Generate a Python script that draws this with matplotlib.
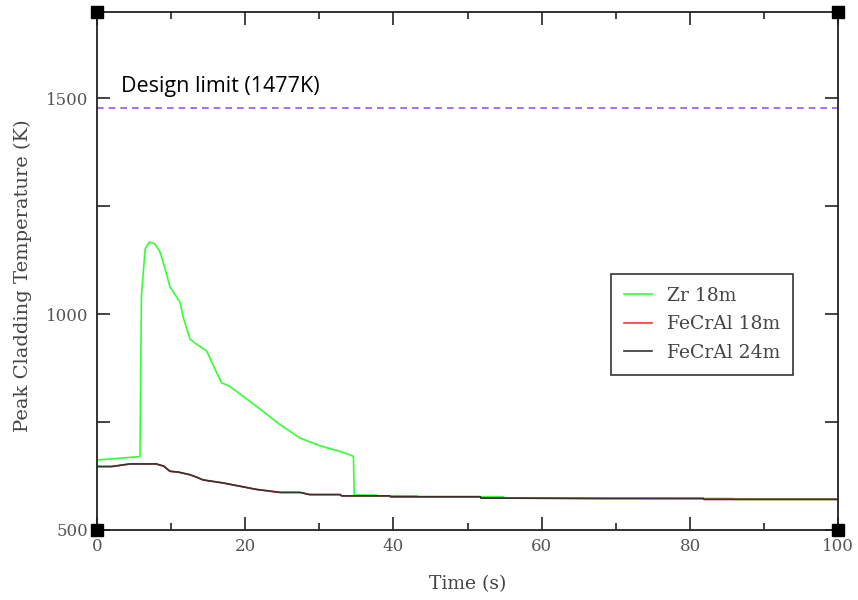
import numpy as np
import matplotlib.pyplot as plt
from matplotlib.ticker import MultipleLocator

# Zr 18m
zr_t = [0, 5.8, 6.0, 6.5, 7.05, 7.8, 8.5, 9.2, 9.85, 11.2, 11.6, 12.55, 13.45,
        14.8, 15.5, 16.8, 17.9, 19.7, 22.4, 24.7, 27.4, 30.1, 32.8, 34.4, 34.6,
        34.7, 37.7, 37.8, 39.5, 43.2, 43.3, 51.7, 54.8, 54.9, 81.8, 85.8, 85.9, 100]
zr_T = [662, 670, 1043, 1151, 1167, 1163, 1144, 1105, 1063, 1028, 995, 942, 930,
        915, 888, 841, 833, 810, 775, 744, 713, 695, 682, 672, 670,
        581, 581, 579, 579, 579, 577, 577, 577, 574, 573, 573, 571, 571]

# FeCrAl 24m
fe24_t = [0, 2.0, 4.45, 8.0, 9.0, 9.85, 11.0, 12.55, 13.5, 14.3, 17.0, 21.5,
          24.7, 27.4, 28.7, 32.8, 33.0, 39.5, 39.6, 51.7, 51.8, 67.9, 81.8, 81.9, 100]
fe24_T = [647, 647, 653, 653, 648, 636, 634, 628, 622, 616, 609, 594,
          587, 587, 582, 582, 579, 579, 577, 577, 574, 573, 573, 571, 571]

# FeCrAl 18m (lies under the 24m curve)
fe18_t = fe24_t
fe18_T = fe24_T

design_limit = 1477

fig = plt.figure(figsize=(8.58, 6), dpi=100)
ax = fig.add_axes([0.113, 0.1167, 0.864, 0.8633])

ax.plot(zr_t, zr_T, color='#33ff33', lw=1.2, label='Zr 18m')
ax.plot(fe18_t, fe18_T, color='#ff3333', lw=1.2, label='FeCrAl 18m')
ax.plot(fe24_t, fe24_T, color='#333333', lw=1.2, label='FeCrAl 24m')

ax.axhline(design_limit, color='#9955ee', ls=(0, (4, 3)), lw=1.2)
ax.text(3.2, 1514, 'Design limit (1477K)', family='Open Sans', fontsize=15.5,
        va='baseline', ha='left')

ax.set_xlim(0, 100)
ax.set_ylim(500, 1700)
ax.xaxis.set_major_locator(MultipleLocator(20))
ax.xaxis.set_minor_locator(MultipleLocator(10))
ax.yaxis.set_major_locator(MultipleLocator(500))
ax.yaxis.set_minor_locator(MultipleLocator(250))
ax.tick_params(which='both', direction='in', top=True, right=True,
               color='#222222', width=1.2)
ax.tick_params(which='major', length=9.5, labelsize=12, labelcolor='#555555', pad=6)
ax.tick_params(axis='x', which='minor', length=5)
ax.tick_params(axis='y', which='minor', length=9.5)
for lab in ax.get_xticklabels() + ax.get_yticklabels():
    lab.set_family('DejaVu Serif')
for sp in ax.spines.values():
    sp.set_linewidth(1.3)
    sp.set_color('#222222')

# corner squares
ax.plot([0, 100, 0, 100], [500, 500, 1700, 1700], 's', color='black', ms=8,
        clip_on=False, zorder=5)

ax.set_xlabel('Time (s)', family='DejaVu Serif', fontsize=13.5, color='#444444',
              labelpad=14)
ax.set_ylabel('Peak Cladding Temperature (K)', family='DejaVu Serif',
              fontsize=14, color='#444444')
ax.yaxis.set_label_coords(-0.087, 0.49)

leg = ax.legend(loc='center right', bbox_to_anchor=(0.952, 0.397), fancybox=False,
                framealpha=1, edgecolor='#333333', handlelength=1.5,
                handletextpad=0.8, borderpad=0.7, labelspacing=0.55,
                prop={'family': 'DejaVu Serif', 'size': 13.5})
for t in leg.get_texts():
    t.set_color('#444444')
leg.get_frame().set_linewidth(1.2)

fig.savefig('out.png', dpi=100)
